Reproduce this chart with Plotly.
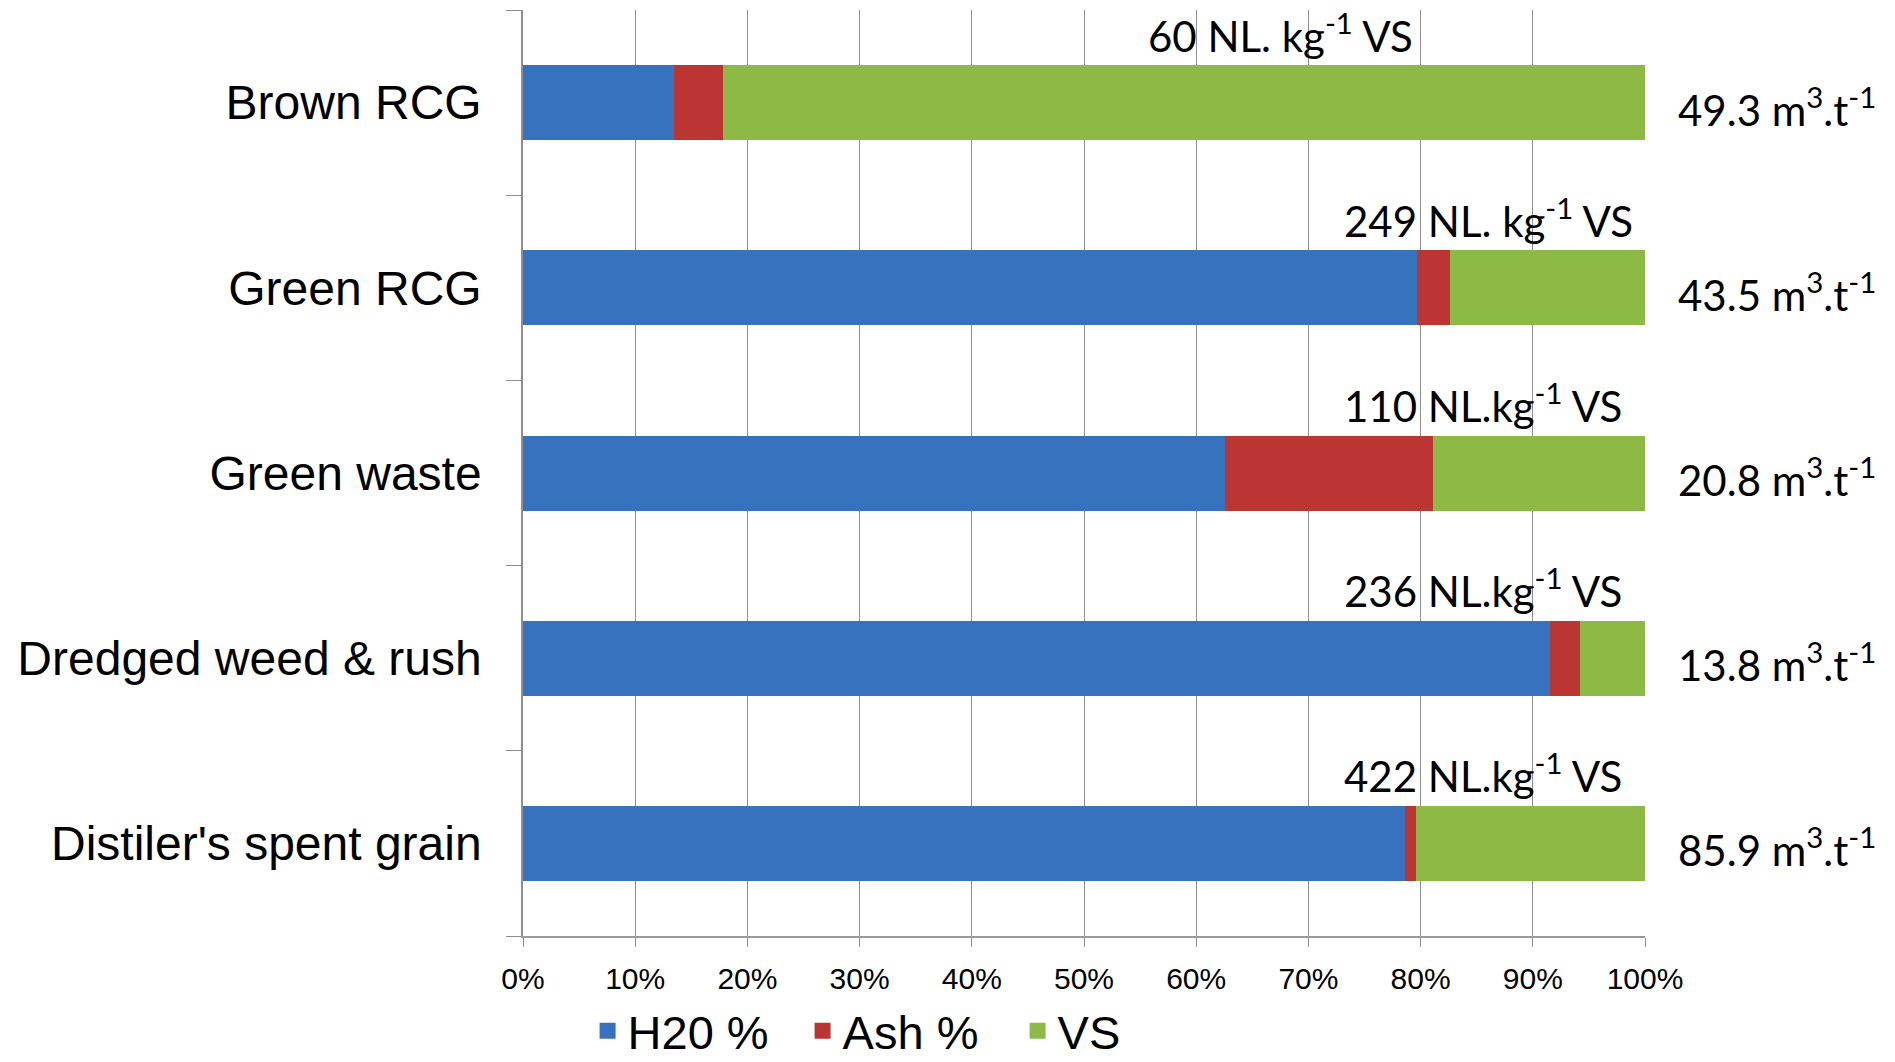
import plotly.graph_objects as go

categories = ["Brown RCG", "Green RCG", "Green waste", "Dredged weed & rush", "Distiler's spent grain"]
h2o = [13.5, 79.7, 62.6, 91.5, 78.6]
ash = [4.3, 2.9, 18.5, 2.7, 1.0]
vs = [82.2, 17.4, 18.9, 5.8, 20.4]
yield_vs = ["60 NL. kg<sup>-1</sup> VS", "249 NL. kg<sup>-1</sup> VS", "110 NL.kg<sup>-1</sup> VS",
            "236 NL.kg<sup>-1</sup> VS", "422 NL.kg<sup>-1</sup> VS"]
yield_fresh = ["49.3 m<sup>3</sup>.t<sup>-1</sup>", "43.5 m<sup>3</sup>.t<sup>-1</sup>", "20.8 m<sup>3</sup>.t<sup>-1</sup>",
               "13.8 m<sup>3</sup>.t<sup>-1</sup>", "85.9 m<sup>3</sup>.t<sup>-1</sup>"]
x_ticks = [0, 10, 20, 30, 40, 50, 60, 70, 80, 90, 100]
x_tick_labels = ["0%", "10%", "20%", "30%", "40%", "50%", "60%", "70%", "80%", "90%", "100%"]

series = [("H20 %", h2o, "#3672bd"), ("Ash %", ash, "#bb3633"), ("VS", vs, "#8dba44")]

fig = go.Figure()
for name, vals, col in series:
    fig.add_trace(go.Bar(
        y=categories, x=vals, name=name, orientation="h",
        marker=dict(color=col, line=dict(width=0)), width=0.405,
        showlegend=False, legendgroup=name,
    ))
for name, vals, col in series:
    fig.add_trace(go.Scatter(
        x=[None], y=[None], mode="markers", name=name, legendgroup=name,
        marker=dict(symbol="square", size=24, color=col), showlegend=True,
    ))

ann_font = dict(family="Lato, Carlito, Liberation Sans Narrow, sans-serif", size=42, color="#000")
for i, cat in enumerate(categories):
    fig.add_annotation(x=55.5 if i == 0 else 73.0, y=cat, xref="x", yref="y",
                       text=yield_vs[i], showarrow=False, xanchor="left", yanchor="middle",
                       yshift=70, font=ann_font)
    fig.add_annotation(x=1.1176, y=cat, xref="paper", yref="y",
                       text=yield_fresh[i], showarrow=False, xanchor="center", yanchor="middle",
                       yshift=-4, font=ann_font)

fig.update_layout(
    barmode="stack",
    width=1895, height=1062,
    margin=dict(l=523, r=250, t=10, b=126, pad=0, autoexpand=False),
    paper_bgcolor="white", plot_bgcolor="white",
    font=dict(family="Liberation Sans, Arial, sans-serif", color="#000"),
    showlegend=True,
    legend=dict(orientation="h", x=0.345, xanchor="center",
                yref="container", y=0.029, yanchor="middle",
                font=dict(size=47, family="Liberation Sans, Arial, sans-serif"),
                itemwidth=30, itemsizing="trace", traceorder="normal",
                entrywidth=170, entrywidthmode="pixels",
                bgcolor="rgba(0,0,0,0)"),
)
fig.update_xaxes(range=[0, 100], tickmode="array", tickvals=x_ticks, ticktext=x_tick_labels,
                 showgrid=True, gridcolor="#8e8e8e", gridwidth=1,
                 showline=True, linecolor="#9a9a9a", linewidth=2,
                 ticks="outside", ticklen=9, tickcolor="#8e8e8e", ticklabelstandoff=6,
                 tickfont=dict(size=30), zeroline=False, fixedrange=True)
fig.update_yaxes(categoryorder="array", categoryarray=categories[::-1], range=[-0.5, 4.5],
                 showline=True, linecolor="#8e8e8e", linewidth=1.5,
                 ticks="outside", ticklen=15, tickcolor="#8e8e8e", tickson="boundaries",
                 tickfont=dict(size=48), ticklabelstandoff=30, showgrid=False, fixedrange=True)

fig.write_html("out.html")
